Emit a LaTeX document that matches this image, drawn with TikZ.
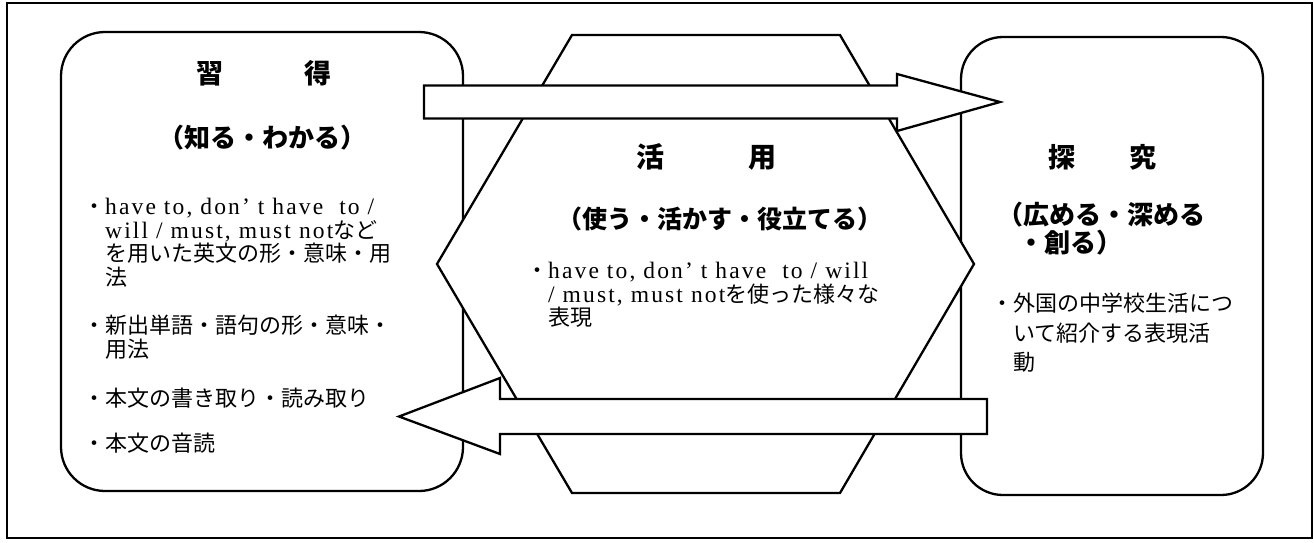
\documentclass[tikz,border=0pt]{standalone}
\usepackage{fontspec}
\setmainfont{Liberation Serif}
\newfontfamily\jp{Noto Sans CJK JP}
\newfontfamily\lt[LetterSpace=9,Scale=1.07]{Liberation Serif}
\newcommand\js{\rule[-0.12em]{0pt}{1em}}
\begin{document}
\begin{tikzpicture}[x=1pt,y=-1pt,
  shapeline/.style={draw=black, line width=2.3pt, line join=miter},
  roundbox/.style={shapeline, fill=white, rounded corners=44pt},
  blockarrow/.style={shapeline, fill=white},
  ttl/.style={inner sep=0pt, font=\jp\bfseries\fontsize{27}{30}\selectfont},
  subttl/.style={inner sep=0pt, font=\jp\bfseries\fontsize{26}{28}\selectfont, align=left},
  body/.style={inner sep=0pt, anchor=north west, align=left, font=\jp\fontsize{22}{23.7}\selectfont},
]
\useasboundingbox (0,0) rectangle (1314,542);
\fill[white] (0,0) rectangle (1314,542);
% outer frame
\draw[line width=1.3pt] (7,3) rectangle (1312,538);
% boxes
\draw[roundbox] (61,32) rectangle (463,491);
\draw[roundbox, rounded corners=42pt] (961,37) rectangle (1263,495);
% hexagon
\draw[shapeline, fill=white] (572,35) -- (840,35) -- (974,264) -- (840,493) -- (572,493) -- (437,264) -- cycle;
% block arrows
\draw[blockarrow] (424,85.5) -- (897,85.5) -- (897,74) -- (1000,102) -- (897,131) -- (897,118.5) -- (424,118.5) -- cycle;
\draw[blockarrow] (987,399) -- (500,399) -- (500,378) -- (399,416.5) -- (500,454) -- (500,434) -- (987,434) -- cycle;
% left box texts
\node[ttl] (ltitle) at (264,73) {習\hspace{3em}得};
\node[subttl] (lsub) at (262,138) {（知る・わかる）};
\node[body] (lb1) at (83,195) {\js・{\lt have to, don’ t have\ \ to /}\\
  \hspace*{1em}{\lt will / must, must not}など\\
  \hspace*{1em}を用いた英文の形・意味・用\\
  \hspace*{1em}法};
\node[body] (lb2) at (83,314) {\js・新出単語・語句の形・意味・\\
  \hspace*{1em}用法};
\node[body] (lb3) at (83,387) {\js・本文の書き取り・読み取り};
\node[body] (lb4) at (83,432) {\js・本文の音読};
% hexagon texts
\node[ttl, font=\jp\bfseries\fontsize{28}{30}\selectfont] (htitle) at (706,157) {活\hspace{3em}用};
\node[subttl, font=\jp\bfseries\fontsize{25}{28}\selectfont] (hsub) at (720,219) {（使う・活かす・役立てる）};
\node[body] (hb1) at (526,259) {\js・{\lt have to, don’ t have\ \ to / will}\\
  \hspace*{1em}{\lt / must, must not}を使った様々な\\
  \hspace*{1em}表現};
% right box texts
\node[ttl] (rtitle) at (1102,157) {探\hspace{2em}究};
\node[subttl, anchor=north west] (rsub) at (997,202) {（広める・深める\\\hspace*{0.8em}・創る）};
\node[body, font=\jp\fontsize{22}{29.5}\selectfont] (rb1) at (991,292) {\js・外国の中学校生活につ\\
  \hspace*{1em}いて紹介する表現活\\
  \hspace*{1em}動};
\end{tikzpicture}
\end{document}
